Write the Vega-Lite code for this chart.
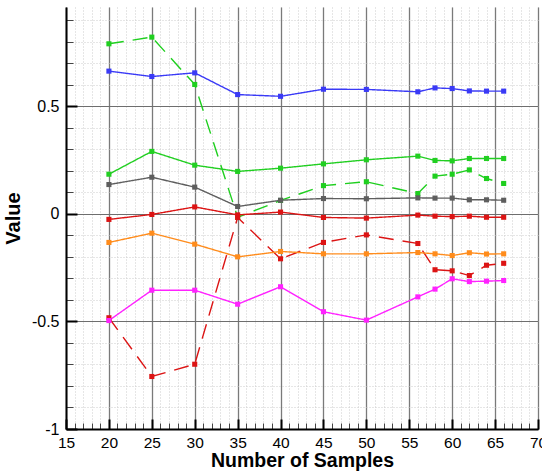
{
  "$schema": "https://vega.github.io/schema/vega-lite/v6.json",
  "width": 472,
  "height": 422,
  "autosize": "none",
  "padding": {"left": 66, "top": 7, "right": 4, "bottom": 42},
  "background": "white",
  "config": {
    "view": {"stroke": null},
    "font": "Liberation Sans",
    "axis": {"labelFont": "Liberation Sans", "titleFont": "Liberation Sans"}
  },
  "datasets": {
    "series": [
      {"n": 20, "v": 0.663, "s": "blue", "d": "solid"},
      {"n": 25, "v": 0.638, "s": "blue", "d": "solid"},
      {"n": 30, "v": 0.655, "s": "blue", "d": "solid"},
      {"n": 35, "v": 0.554, "s": "blue", "d": "solid"},
      {"n": 40, "v": 0.546, "s": "blue", "d": "solid"},
      {"n": 45, "v": 0.579, "s": "blue", "d": "solid"},
      {"n": 50, "v": 0.578, "s": "blue", "d": "solid"},
      {"n": 56, "v": 0.567, "s": "blue", "d": "solid"},
      {"n": 58, "v": 0.585, "s": "blue", "d": "solid"},
      {"n": 60, "v": 0.582, "s": "blue", "d": "solid"},
      {"n": 62, "v": 0.571, "s": "blue", "d": "solid"},
      {"n": 64, "v": 0.570, "s": "blue", "d": "solid"},
      {"n": 66, "v": 0.570, "s": "blue", "d": "solid"},

      {"n": 20, "v": 0.790, "s": "green dashed", "d": "dashed"},
      {"n": 25, "v": 0.821, "s": "green dashed", "d": "dashed"},
      {"n": 30, "v": 0.601, "s": "green dashed", "d": "dashed"},
      {"n": 35, "v": -0.016, "s": "green dashed", "d": "dashed"},
      {"n": 40, "v": 0.062, "s": "green dashed", "d": "dashed"},
      {"n": 45, "v": 0.131, "s": "green dashed", "d": "dashed"},
      {"n": 50, "v": 0.149, "s": "green dashed", "d": "dashed"},
      {"n": 56, "v": 0.094, "s": "green dashed", "d": "dashed"},
      {"n": 58, "v": 0.175, "s": "green dashed", "d": "dashed"},
      {"n": 60, "v": 0.184, "s": "green dashed", "d": "dashed"},
      {"n": 62, "v": 0.204, "s": "green dashed", "d": "dashed"},
      {"n": 64, "v": 0.164, "s": "green dashed", "d": "dashed"},
      {"n": 66, "v": 0.141, "s": "green dashed", "d": "dashed"},

      {"n": 20, "v": 0.184, "s": "green", "d": "solid"},
      {"n": 25, "v": 0.290, "s": "green", "d": "solid"},
      {"n": 30, "v": 0.226, "s": "green", "d": "solid"},
      {"n": 35, "v": 0.197, "s": "green", "d": "solid"},
      {"n": 40, "v": 0.212, "s": "green", "d": "solid"},
      {"n": 45, "v": 0.232, "s": "green", "d": "solid"},
      {"n": 50, "v": 0.251, "s": "green", "d": "solid"},
      {"n": 56, "v": 0.268, "s": "green", "d": "solid"},
      {"n": 58, "v": 0.248, "s": "green", "d": "solid"},
      {"n": 60, "v": 0.246, "s": "green", "d": "solid"},
      {"n": 62, "v": 0.257, "s": "green", "d": "solid"},
      {"n": 64, "v": 0.257, "s": "green", "d": "solid"},
      {"n": 66, "v": 0.257, "s": "green", "d": "solid"},

      {"n": 20, "v": 0.136, "s": "gray", "d": "solid"},
      {"n": 25, "v": 0.170, "s": "gray", "d": "solid"},
      {"n": 30, "v": 0.124, "s": "gray", "d": "solid"},
      {"n": 35, "v": 0.034, "s": "gray", "d": "solid"},
      {"n": 40, "v": 0.063, "s": "gray", "d": "solid"},
      {"n": 45, "v": 0.071, "s": "gray", "d": "solid"},
      {"n": 50, "v": 0.070, "s": "gray", "d": "solid"},
      {"n": 56, "v": 0.074, "s": "gray", "d": "solid"},
      {"n": 58, "v": 0.073, "s": "gray", "d": "solid"},
      {"n": 60, "v": 0.073, "s": "gray", "d": "solid"},
      {"n": 62, "v": 0.065, "s": "gray", "d": "solid"},
      {"n": 64, "v": 0.065, "s": "gray", "d": "solid"},
      {"n": 66, "v": 0.063, "s": "gray", "d": "solid"},

      {"n": 20, "v": -0.483, "s": "red dashed", "d": "dashed"},
      {"n": 25, "v": -0.756, "s": "red dashed", "d": "dashed"},
      {"n": 30, "v": -0.699, "s": "red dashed", "d": "dashed"},
      {"n": 35, "v": -0.017, "s": "red dashed", "d": "dashed"},
      {"n": 40, "v": -0.209, "s": "red dashed", "d": "dashed"},
      {"n": 45, "v": -0.133, "s": "red dashed", "d": "dashed"},
      {"n": 50, "v": -0.098, "s": "red dashed", "d": "dashed"},
      {"n": 56, "v": -0.138, "s": "red dashed", "d": "dashed"},
      {"n": 58, "v": -0.260, "s": "red dashed", "d": "dashed"},
      {"n": 60, "v": -0.265, "s": "red dashed", "d": "dashed"},
      {"n": 62, "v": -0.287, "s": "red dashed", "d": "dashed"},
      {"n": 64, "v": -0.239, "s": "red dashed", "d": "dashed"},
      {"n": 66, "v": -0.230, "s": "red dashed", "d": "dashed"},

      {"n": 20, "v": -0.026, "s": "red", "d": "solid"},
      {"n": 25, "v": -0.003, "s": "red", "d": "solid"},
      {"n": 30, "v": 0.032, "s": "red", "d": "solid"},
      {"n": 35, "v": -0.005, "s": "red", "d": "solid"},
      {"n": 40, "v": 0.008, "s": "red", "d": "solid"},
      {"n": 45, "v": -0.017, "s": "red", "d": "solid"},
      {"n": 50, "v": -0.020, "s": "red", "d": "solid"},
      {"n": 56, "v": -0.006, "s": "red", "d": "solid"},
      {"n": 58, "v": -0.011, "s": "red", "d": "solid"},
      {"n": 60, "v": -0.013, "s": "red", "d": "solid"},
      {"n": 62, "v": -0.011, "s": "red", "d": "solid"},
      {"n": 64, "v": -0.016, "s": "red", "d": "solid"},
      {"n": 66, "v": -0.016, "s": "red", "d": "solid"},

      {"n": 20, "v": -0.133, "s": "orange", "d": "solid"},
      {"n": 25, "v": -0.090, "s": "orange", "d": "solid"},
      {"n": 30, "v": -0.141, "s": "orange", "d": "solid"},
      {"n": 35, "v": -0.200, "s": "orange", "d": "solid"},
      {"n": 40, "v": -0.175, "s": "orange", "d": "solid"},
      {"n": 45, "v": -0.186, "s": "orange", "d": "solid"},
      {"n": 50, "v": -0.186, "s": "orange", "d": "solid"},
      {"n": 56, "v": -0.180, "s": "orange", "d": "solid"},
      {"n": 58, "v": -0.186, "s": "orange", "d": "solid"},
      {"n": 60, "v": -0.194, "s": "orange", "d": "solid"},
      {"n": 62, "v": -0.181, "s": "orange", "d": "solid"},
      {"n": 64, "v": -0.187, "s": "orange", "d": "solid"},
      {"n": 66, "v": -0.186, "s": "orange", "d": "solid"},

      {"n": 20, "v": -0.496, "s": "magenta", "d": "solid"},
      {"n": 25, "v": -0.355, "s": "magenta", "d": "solid"},
      {"n": 30, "v": -0.355, "s": "magenta", "d": "solid"},
      {"n": 35, "v": -0.420, "s": "magenta", "d": "solid"},
      {"n": 40, "v": -0.339, "s": "magenta", "d": "solid"},
      {"n": 45, "v": -0.455, "s": "magenta", "d": "solid"},
      {"n": 50, "v": -0.494, "s": "magenta", "d": "solid"},
      {"n": 56, "v": -0.386, "s": "magenta", "d": "solid"},
      {"n": 58, "v": -0.350, "s": "magenta", "d": "solid"},
      {"n": 60, "v": -0.302, "s": "magenta", "d": "solid"},
      {"n": 62, "v": -0.315, "s": "magenta", "d": "solid"},
      {"n": 64, "v": -0.313, "s": "magenta", "d": "solid"},
      {"n": 66, "v": -0.310, "s": "magenta", "d": "solid"}
    ]
  },
  "data": {"name": "series"},
  "encoding": {
    "color": {
      "field": "s",
      "type": "nominal",
      "legend": null,
      "scale": {
        "domain": ["blue", "green dashed", "green", "gray", "red dashed", "red", "orange", "magenta"],
        "range": ["#3a3af6", "#1fcf1f", "#22cf22", "#5e5e5e", "#dc1414", "#dc1414", "#ff8c1c", "#ff22ff"]
      }
    }
  },
  "layer": [
    {
      "description": "minor dotted grid and short inner ticks",
      "mark": {"type": "point", "opacity": 0},
      "encoding": {
        "x": {
          "field": "n", "type": "quantitative",
          "scale": {"domain": [15, 70], "nice": false, "zero": false},
          "axis": {
            "orient": "bottom", "title": null, "labels": false, "domain": false,
            "values": [15,16,17,18,19,20,21,22,23,24,25,26,27,28,29,30,31,32,33,34,35,36,37,38,39,40,41,42,43,44,45,46,47,48,49,50,51,52,53,54,55,56,57,58,59,60,61,62,63,64,65,66,67,68,69,70],
            "grid": true, "gridColor": "#cdcdcd", "gridDash": [1, 2], "gridWidth": 1,
            "ticks": true, "tickSize": -6, "tickColor": "#444", "tickWidth": 1
          }
        },
        "y": {
          "field": "v", "type": "quantitative",
          "scale": {"domain": [-1, 0.961], "nice": false, "zero": false},
          "axis": {
            "orient": "left", "title": null, "labels": false, "domain": false,
            "values": [-1,-0.9,-0.8,-0.7,-0.6,-0.5,-0.4,-0.3,-0.2,-0.1,0,0.1,0.2,0.3,0.4,0.5,0.6,0.7,0.8,0.9],
            "grid": true, "gridColor": "#cdcdcd", "gridDash": [1, 2], "gridWidth": 1,
            "ticks": true, "tickSize": -7, "tickColor": "#444", "tickWidth": 1
          }
        }
      }
    },
    {
      "description": "series lines with the major axes",
      "mark": {"type": "line", "strokeWidth": 1.4},
      "encoding": {
        "x": {
          "field": "n", "type": "quantitative",
          "axis": {
            "orient": "bottom", "title": "Number of Samples",
            "values": [15,20,25,30,35,40,45,50,55,60,65,70],
            "grid": true, "gridColor": "#7a7a7a", "gridWidth": 1.3,
            "domain": true, "domainColor": "#000", "domainWidth": 2,
            "ticks": true, "tickSize": -10, "tickColor": "#000", "tickWidth": 2,
            "labelPadding": 16, "labelFontSize": 15.5, "labelColor": "#000",
            "labelFlush": false, "labelBound": false, "labelOverlap": false,
            "titleFontSize": 19.5, "titleFontWeight": "bold", "titleColor": "#000", "titlePadding": 1
          }
        },
        "y": {
          "field": "v", "type": "quantitative",
          "axis": {
            "orient": "left", "title": "Value",
            "values": [-1, -0.5, 0, 0.5],
            "labelExpr": "replace(format(datum.value, '~g'), '\u2212', '-')",
            "grid": true, "gridColor": "#6e6e6e", "gridWidth": 1.1,
            "domain": true, "domainColor": "#000", "domainWidth": 2,
            "ticks": true, "tickSize": -11, "tickColor": "#000", "tickWidth": 2,
            "labelPadding": 18, "labelFontSize": 16, "labelColor": "#000",
            "labelFlush": false, "labelBound": false, "labelOverlap": false,
            "titleFontSize": 20, "titleFontWeight": "bold", "titleColor": "#000", "titlePadding": 8
          }
        },
        "detail": {"field": "s", "type": "nominal"},
        "strokeDash": {
          "field": "d", "type": "nominal", "legend": null,
          "scale": {"domain": ["solid", "dashed"], "range": [[1, 0], [15, 9]]}
        }
      }
    },
    {
      "description": "square markers",
      "mark": {"type": "point", "shape": "square", "filled": true, "opacity": 1, "size": 26},
      "encoding": {
        "x": {"field": "n", "type": "quantitative", "axis": null},
        "y": {"field": "v", "type": "quantitative", "axis": null}
      }
    }
  ],
  "resolve": {"axis": {"x": "independent", "y": "independent"}}
}
